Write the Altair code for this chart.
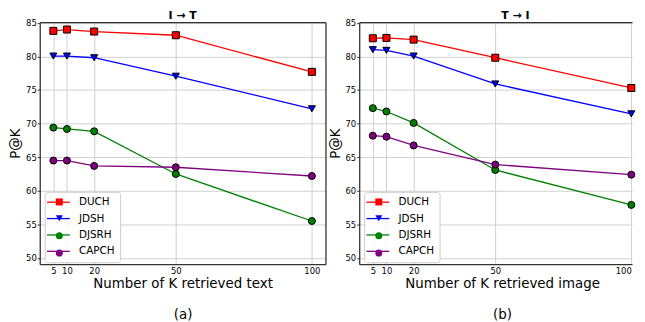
import altair as alt
import pandas as pd

K = [5, 10, 20, 50, 100]
methods = ["DUCH", "JDSH", "DJSRH", "CAPCH"]
colors = ["#ff0000", "#0000ff", "#008000", "#800080"]
shapes = ["square", "triangle-down", "circle", "circle"]
y_ticks = [50, 55, 60, 65, 70, 75, 80, 85]

# Panel (a): I -> T
i2t_duch = [83.8, 84.0, 83.7, 83.15, 77.7]
i2t_jdsh = [80.05, 80.05, 79.8, 77.05, 72.2]
i2t_djsrh = [69.4, 69.2, 68.85, 62.5, 55.5]
i2t_capch = [64.5, 64.5, 63.7, 63.5, 62.2]

# Panel (b): T -> I
t2i_duch = [82.7, 82.75, 82.5, 79.8, 75.3]
t2i_jdsh = [81.0, 80.9, 80.05, 75.9, 71.45]
t2i_djsrh = [72.3, 71.8, 70.1, 63.1, 57.9]
t2i_capch = [68.2, 68.05, 66.75, 63.9, 62.4]

H = 244
PX_PER_K = 288 / 105
FONT = "DejaVu Sans"
SPINE = "#333333"
LEG_X = 5
LEG_Y = H - 73


def panel(series, title, xtitle, caption, width, right_spine, shift, tdx):
    rows = []
    for m, vals in zip(methods, series):
        for k, p in zip(K, vals):
            rows.append({"K": k, "P": p, "method": m, "method2": m + " "})
    df = pd.DataFrame(rows)
    xmax = width / PX_PER_K
    xscale = alt.Scale(domain=[0, xmax], nice=False, zero=False)
    yscale = alt.Scale(domain=[49.07, 85.1], nice=False, zero=False)

    x_bottom = alt.X(
        "K:Q", scale=xscale,
        axis=alt.Axis(values=K, title=[xtitle, caption], tickSize=0,
                      labelPadding=2, titlePadding=2, titleLineHeight=31,
                      titleX=width / 2 + shift,
                      labelFlush=not right_spine, domain=True),
    )
    x_top = alt.X(
        "K:Q", scale=xscale,
        axis=alt.Axis(orient="top", labels=False, ticks=False, grid=False,
                      title=None, domain=True),
    )
    y_left = alt.Y(
        "P:Q", scale=yscale,
        axis=alt.Axis(values=y_ticks, title="P@K", tickSize=2.5,
                      labelPadding=1, titlePadding=3, domain=True),
    )
    if right_spine:
        y_other = alt.Y(
            "P:Q", scale=yscale,
            axis=alt.Axis(orient="right", labels=False, ticks=False,
                          grid=False, title=None, domain=True),
        )
    else:
        y_other = alt.Y("P:Q", scale=yscale, axis=None)

    base = alt.Chart(df)
    lines = base.mark_line(strokeWidth=1.3).encode(
        x=x_bottom,
        y=y_left,
        color=alt.Color(
            "method:N",
            sort=methods,
            scale=alt.Scale(domain=methods, range=colors),
            legend=alt.Legend(
                title=None, orient="none", legendX=LEG_X, legendY=LEG_Y,
                symbolType="M-1.79,0H3.23", symbolSize=84,
                symbolStrokeWidth=1.3,
                labelFont=FONT, labelFontSize=10.5, labelColor="black",
                labelOffset=18.5, padding=5, rowPadding=5.5,
                fillColor="rgba(255,255,255,0.85)", strokeColor="#cccccc",
                cornerRadius=3,
            ),
        ),
    )
    leg2 = alt.Legend(
        title=None, orient="none", legendX=LEG_X + 4.5, legendY=LEG_Y,
        symbolSize=50, symbolStrokeColor="black", symbolStrokeWidth=1,
        labelFont=FONT, labelFontSize=10.5, labelExpr="''",
        labelOffset=7, padding=5, rowPadding=5.5,
    )
    pts = base.mark_point(filled=True, opacity=1, stroke="black",
                          strokeWidth=1, size=50).encode(
        x=x_top,
        y=y_other,
        fill=alt.Fill("method2:N",
                      scale=alt.Scale(domain=[m + " " for m in methods],
                                      range=colors),
                      legend=leg2),
        shape=alt.Shape("method2:N",
                        scale=alt.Scale(domain=[m + " " for m in methods],
                                        range=shapes),
                        legend=leg2),
    )
    return (
        alt.layer(lines, pts)
        .resolve_axis(x="independent", y="independent")
        .properties(
            width=width, height=H,
            title=alt.TitleParams(title, font=FONT, fontSize=11,
                                  fontWeight="bold", offset=-2,
                                  color="black", frame="group",
                                  dx=tdx),
        )
    )


left = panel([i2t_duch, i2t_jdsh, i2t_djsrh, i2t_capch], "I → T",
             "Number of K retrieved text", "(a)", 288, True, 0, 0)
right = panel([t2i_duch, t2i_jdsh, t2i_djsrh, t2i_capch], "T → I",
              "Number of K retrieved image", "(b)", 275, False, 6.5, 20)

chart = (
    alt.hconcat(left, right, spacing=34, bounds="flush")
    .resolve_scale(x="independent", y="independent",
                   color="independent", fill="independent",
                   shape="independent")
    .resolve_legend(color="independent", fill="independent",
                    shape="independent")
    .properties(padding={"left": 0, "top": 0, "right": 0, "bottom": 0})
    .configure_view(strokeWidth=0)
    .configure_axis(
        labelFont=FONT, labelFontSize=8.5, labelColor="black",
        titleFont=FONT, titleFontSize=13.5, titleFontWeight="normal",
        titleColor="black", gridColor="#d0d0d0", gridWidth=1,
        tickColor=SPINE, domainColor=SPINE, domainWidth=1.3,
    )
)

chart.save("out.html", embed_options={"renderer": "svg", "actions": False})
